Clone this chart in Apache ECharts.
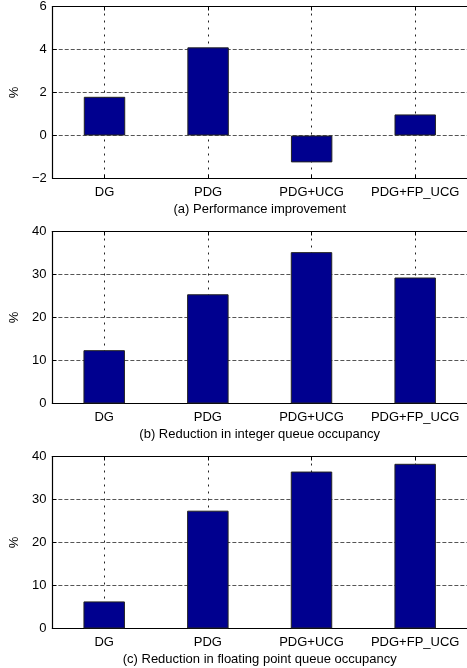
<!DOCTYPE html>
<html>
<head>
<meta charset="utf-8">
<script src="https://cdn.jsdelivr.net/npm/echarts@6/dist/echarts.min.js"></script>
<style>
  html, body { margin: 0; padding: 0; background: #fff; }
  #chart { width: 467px; height: 668px; }
</style>
</head>
<body>
<div id="chart"></div>
<script>
// data
const categories = ['DG', 'PDG', 'PDG+UCG', 'PDG+FP_UCG']
const perfImprove = [1.8, 4.1, -1.25, 0.98]
const intQueueReduction = [12.4, 25.4, 35.2, 29.3]
const fpQueueReduction = [6.3, 27.4, 36.5, 38.3]
const captions = [
  '(a) Performance improvement',
  '(b) Reduction in integer queue occupancy',
  '(c) Reduction in floating point queue occupancy'
]
const yRanges = [[-2, 6, 2], [0, 40, 10], [0, 40, 10]]
const seriesData = [perfImprove, intQueueReduction, fpQueueReduction]

const font = 'Liberation Sans, Arial, Helvetica, sans-serif'
const barColor = '#00008f'
const gridTops = [6.5, 231.5, 456.5]
const vDotted = { color: '#222', width: 1, type: [2, 5] }
// short dashes vanish on the horizontal lines, so use the default dash here
const hDotted = { color: '#555', width: 1, type: 'dashed' }

const grids = [], xAxes = [], yAxes = [], series = []
gridTops.forEach((top, i) => {
  grids.push({ left: 46, right: -3, top: top, height: 172 })
  // bottom axis: labels, caption, vertical dotted grid
  xAxes.push({
    type: 'category', gridIndex: i, data: categories, position: 'bottom',
    axisLine: { onZero: false, lineStyle: { color: '#000', width: 1.2 } },
    axisTick: { show: true, inside: true, length: 4, interval: 0, alignWithLabel: true, lineStyle: { color: '#000' } },
    axisLabel: { color: '#000', fontSize: 13, fontFamily: font, margin: 7, interval: 0 },
    splitLine: { show: true, interval: 0, alignWithLabel: true, lineStyle: vDotted },
    name: captions[i], nameLocation: 'middle', nameGap: 24,
    nameTextStyle: { color: '#000', fontSize: 13, fontFamily: font }
  })
  // top border of the box
  xAxes.push({
    type: 'category', gridIndex: i, data: categories, position: 'top',
    axisLine: { onZero: false, lineStyle: { color: '#000', width: 1.2 } },
    axisTick: { show: true, inside: true, length: 4, interval: 0, alignWithLabel: true, lineStyle: { color: '#000' } },
    axisLabel: { show: false }, splitLine: { show: false }
  })
  const r = yRanges[i]
  yAxes.push({
    type: 'value', gridIndex: i, min: r[0], max: r[1], interval: r[2],
    axisLine: { show: true, onZero: false, lineStyle: { color: '#000', width: 1.2 } },
    axisTick: { show: true, inside: true, length: 4, lineStyle: { color: '#000' } },
    axisLabel: {
      color: '#000', fontSize: 13, fontFamily: font, margin: 6,
      formatter: v => String(v).replace('-', '\u2212')
    },
    splitLine: { show: true, lineStyle: hDotted },
    name: '%', nameLocation: 'middle', nameGap: 31, nameRotate: 90,
    nameTextStyle: { color: '#000', fontSize: 13, fontFamily: font }
  })
  series.push({
    type: 'bar', xAxisIndex: i * 2, yAxisIndex: i, data: seriesData[i],
    barWidth: '40%',
    itemStyle: { color: barColor, borderColor: '#222', borderWidth: 1 }
  })
})

const chart = echarts.init(document.getElementById('chart'))
chart.setOption({
  animation: false,
  grid: grids,
  xAxis: xAxes,
  yAxis: yAxes,
  series: series
})
</script>
</body>
</html>
